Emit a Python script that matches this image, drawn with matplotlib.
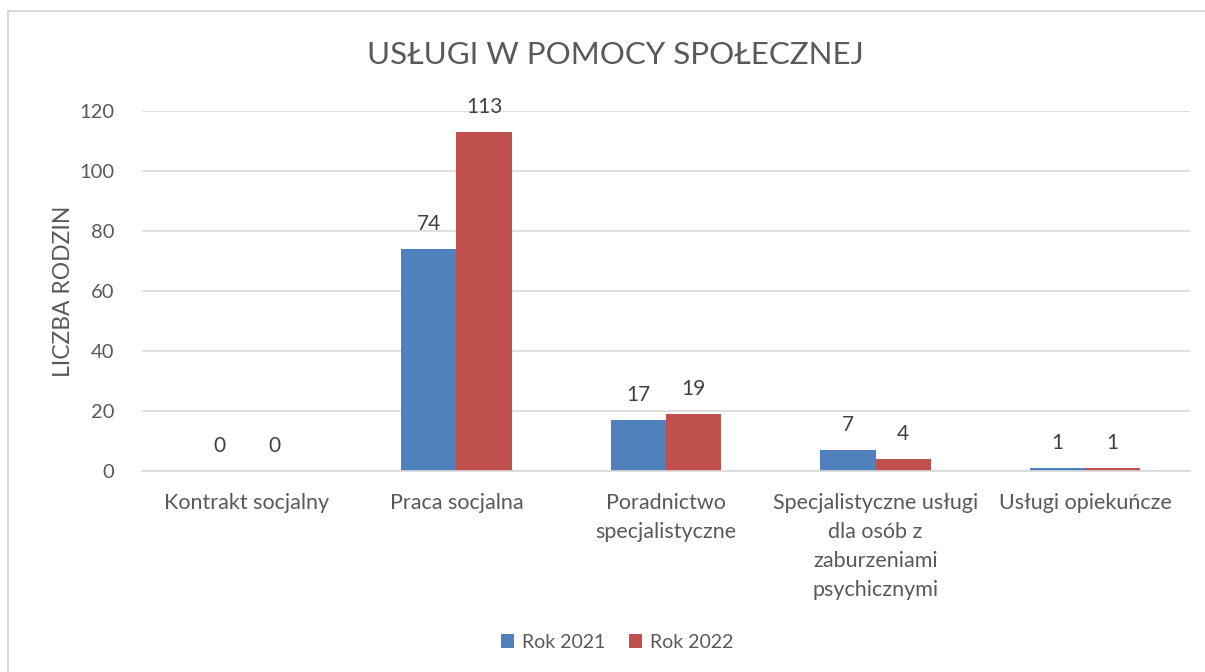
import matplotlib
matplotlib.use("Agg")
import matplotlib.pyplot as plt
import numpy as np
from matplotlib.patches import Rectangle

categories = ["Kontrakt socjalny", "Praca socjalna", "Poradnictwo\nspecjalistyczne",
              "Specjalistyczne usługi\ndla osób z\nzaburzeniami\npsychicznymi", "Usługi opiekuńcze"]
series_names = ["Rok 2021", "Rok 2022"]
values_2021 = [0, 74, 17, 7, 1]
values_2022 = [0, 113, 19, 4, 1]
yticks = [0, 20, 40, 60, 80, 100, 120]

colors = ["#4F81BD", "#C0504D"]
txt = "#595959"
plt.rcParams['font.family'] = ['Lato', 'DejaVu Sans']

fig = plt.figure(figsize=(12.05, 6.72), dpi=100)
fig.patches.append(Rectangle((8/1205, -0.1), 1.2, 1 - 11/672 + 0.1, transform=fig.transFigure,
                             fill=False, edgecolor="#D9D9D9", linewidth=1.5))
ax = fig.add_axes([142/1205, 1 - 471/672, 1048/1205, 360/672])

x = np.arange(len(categories))
w = 0.263
b1 = ax.bar(x - w/2, values_2021, w, color=colors[0], label=series_names[0])
b2 = ax.bar(x + w/2, values_2022, w, color=colors[1], label=series_names[1])
for bars in (b1, b2):
    for r in bars:
        ax.annotate(f"{int(r.get_height())}", (r.get_x() + r.get_width()/2, r.get_height()),
                    xytext=(0, 10.5), textcoords="offset points", ha="center", va="bottom",
                    fontsize=15, color="#404040")

ax.set_xlim(-0.5, len(categories) - 0.5)
ax.set_ylim(0, 120)
ax.set_yticks(yticks)
ax.yaxis.grid(True, color="#D9D9D9", linewidth=1.2)
ax.set_axisbelow(True)
for s in ["top", "right", "left"]:
    ax.spines[s].set_visible(False)
ax.spines["bottom"].set_color("#D9D9D9")
ax.spines["bottom"].set_linewidth(1.2)
ax.tick_params(axis="y", length=0, labelsize=14.5, colors=txt, pad=20)
ax.tick_params(axis="x", length=0, labelsize=15.5, colors=txt, pad=16)
ax.set_xticks(x)
ax.set_xticklabels(categories, va="top", linespacing=1.55)
ax.set_ylabel("LICZBA RODZIN", fontsize=16.5, color=txt, labelpad=4)
fig.text(615/1205, 1 - 55/672, "USŁUGI W POMOCY SPOŁECZNEJ", ha="center", va="center",
         fontsize=22.5, color=txt)
fig.legend(handles=[b1, b2], labels=series_names, loc="center", bbox_to_anchor=(617/1205, 1 - 642/672),
           ncol=2, frameon=False, fontsize=14, handlelength=0.7, handleheight=0.7,
           columnspacing=1.2, handletextpad=0.4, labelcolor=txt)
fig.savefig("out.png", dpi=100, facecolor="white")
